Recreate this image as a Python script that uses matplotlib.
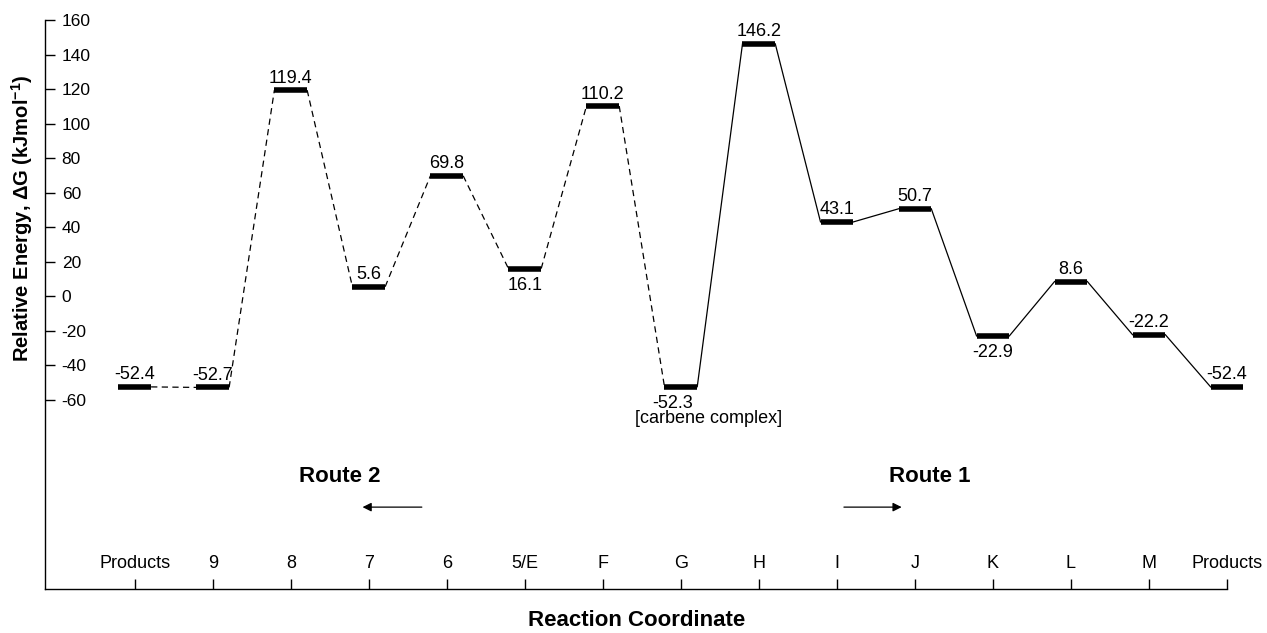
import matplotlib
matplotlib.use("Agg")
import matplotlib.pyplot as plt
import numpy as np

# Reaction coordinate stages and relative free energies (kJ/mol)
stages = ["Products", "9", "8", "7", "6", "5/E", "F", "G", "H", "I", "J", "K", "L", "M", "Products"]
energies = [-52.4, -52.7, 119.4, 5.6, 69.8, 16.1, 110.2, -52.3, 146.2, 43.1, 50.7, -22.9, 8.6, -22.2, -52.4]
energy_labels = ["-52.4", "-52.7", "119.4", "5.6", "69.8", "16.1", "110.2", "-52.3",
                 "146.2", "43.1", "50.7", "-22.9", "8.6", "-22.2", "-52.4"]
labels_below = [5, 7, 11]
route2_last = 7            # stages 0..7 belong to Route 2 (dashed)
yticks = [160, 140, 120, 100, 80, 60, 40, 20, 0, -20, -40, -60]

plt.rcParams["font.family"] = ["Liberation Sans", "DejaVu Sans"]

fig = plt.figure(figsize=(12.67, 6.33), dpi=100)
ax = fig.add_axes([45 / 1267, 1 - 589 / 633, (1227 - 45) / 1267, (589 - 20) / 633])

x = np.arange(len(stages))
hw = 0.21

# connectors between consecutive states
for i in range(len(stages) - 1):
    ls = (0, (5, 3.5)) if i < route2_last else "-"
    ax.plot([x[i] + hw, x[i + 1] - hw], [energies[i], energies[i + 1]],
            color="black", lw=0.9, ls=ls, zorder=2, clip_on=False)

# energy levels
ax.hlines(energies, x - hw, x + hw, color="black", lw=4, zorder=3,
          capstyle="butt", clip_on=False)

for i, (xi, e, lab) in enumerate(zip(x, energies, energy_labels)):
    if i in labels_below:
        dx = -6 if i == 7 else 0
        ax.annotate(lab, (xi, e), xytext=(dx, -6), textcoords="offset points",
                    ha="center", va="top", fontsize=13)
    else:
        ax.annotate(lab, (xi, e), xytext=(0, 2.5), textcoords="offset points",
                    ha="center", va="bottom", fontsize=13)

ax.annotate("[carbene complex]", (x[7], energies[7]), xytext=(20, -17),
            textcoords="offset points", ha="center", va="top", fontsize=13)

# route annotations
ax.text(2.63, -104.5, "Route 2", ha="center", va="center", fontsize=16, fontweight="bold")
ax.annotate("", xy=(2.92, -122), xytext=(3.68, -122),
            arrowprops=dict(arrowstyle="-|>", color="black", lw=0.9,
                            mutation_scale=13, shrinkA=0, shrinkB=0))
ax.text(10.19, -104.5, "Route 1", ha="center", va="center", fontsize=16, fontweight="bold")
ax.annotate("", xy=(9.83, -122), xytext=(9.09, -122),
            arrowprops=dict(arrowstyle="-|>", color="black", lw=0.9,
                            mutation_scale=13, shrinkA=0, shrinkB=0))

ax.set_xlim(-1.15, 14.0)
ax.set_ylim(-169.4, 160)

for side in ("top", "right"):
    ax.spines[side].set_visible(False)
for side in ("left", "bottom"):
    ax.spines[side].set_linewidth(1.0)

ax.set_yticks(yticks)
ax.set_yticklabels([str(v) for v in yticks])
ax.tick_params(axis="y", direction="in", length=7, width=1.0, pad=-12, labelsize=12.5)
for t in ax.get_yticklabels():
    t.set_horizontalalignment("left")

ax.set_xticks(x)
ax.set_xticklabels(stages)
ax.tick_params(axis="x", direction="in", length=7, width=1.0, pad=-12, labelsize=13)
for t in ax.get_xticklabels():
    t.set_verticalalignment("bottom")

fig.text(22 / 1267, 1 - 218 / 633, "Relative Energy, \u0394G (kJmol$^{\\mathregular{-1}}$)",
         rotation=90, ha="center", va="center", fontsize=14.5, fontweight="bold")
fig.text(637 / 1267, 1 - 620 / 633, "Reaction Coordinate",
         ha="center", va="center", fontsize=16, fontweight="bold")

fig.savefig("out.png", dpi=100)
